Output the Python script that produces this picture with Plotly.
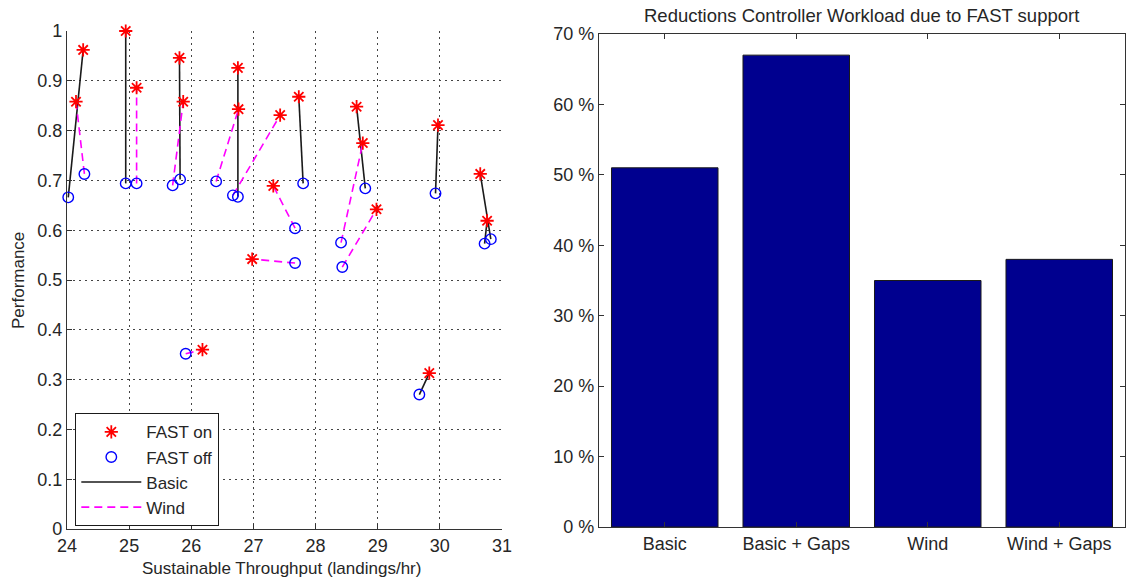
import plotly.graph_objects as go

# ---------------- data ----------------
basic_on_x = [24.26, 24.945, 25.81, 26.75, 27.73, 28.66, 29.97, 30.65, 30.76, 29.83]
basic_on_y = [0.962, 1.0, 0.946, 0.926, 0.868, 0.848, 0.811, 0.713, 0.619, 0.313]
basic_off_x = [24.02, 24.945, 25.82, 26.75, 27.80, 28.80, 29.93, 30.82, 30.72, 29.67]
basic_off_y = [0.666, 0.694, 0.702, 0.667, 0.694, 0.684, 0.674, 0.582, 0.573, 0.270]

wind_on_x = [24.145, 25.12, 25.87, 26.76, 27.43, 27.32, 26.98, 28.76, 28.98, 26.18]
wind_on_y = [0.858, 0.886, 0.858, 0.843, 0.831, 0.689, 0.542, 0.775, 0.642, 0.360]
wind_off_x = [24.28, 25.12, 25.70, 26.40, 26.67, 27.67, 27.67, 28.41, 28.43, 25.91]
wind_off_y = [0.713, 0.694, 0.690, 0.698, 0.670, 0.604, 0.534, 0.575, 0.526, 0.352]

bar_categories = ["Basic", "Basic + Gaps", "Wind", "Wind + Gaps"]
bar_values = [51, 67, 35, 38]
bar_ticks = [0, 10, 20, 30, 40, 50, 60, 70]
bar_ticktext = [f"{v} %" for v in bar_ticks]

left_title_x = "Sustainable Throughput (landings/hr)"
left_title_y = "Performance"
right_title = "Reductions Controller Workload due to FAST support"

# ---------------- helpers ----------------
def segments(x0, y0, x1, y1):
    xs, ys = [], []
    for a, b, c, d in zip(x0, y0, x1, y1):
        xs += [a, c, None]
        ys += [b, d, None]
    return xs, ys

W, H = 1128, 579
FONT = "Liberation Sans, Arial, sans-serif"
TXT = "#262626"

def px_x(p):
    return p / W

def px_y(p):
    return 1 - p / H

fig = go.Figure()

bx, by = segments(basic_off_x, basic_off_y, basic_on_x, basic_on_y)
wx, wy = segments(wind_off_x, wind_off_y, wind_on_x, wind_on_y)

fig.add_trace(go.Scatter(x=bx, y=by, mode="lines", name="Basic",
                         line=dict(color="#1a1a1a", width=1.6),
                         legendrank=3, xaxis="x", yaxis="y", cliponaxis=False))
fig.add_trace(go.Scatter(x=wx, y=wy, mode="lines", name="Wind",
                         line=dict(color="#FF00FF", width=1.6, dash="8px,5px"),
                         legendrank=4, xaxis="x", yaxis="y", cliponaxis=False))
fig.add_trace(go.Scatter(x=basic_on_x + wind_on_x, y=basic_on_y + wind_on_y,
                         mode="markers", name="FAST on",
                         marker=dict(symbol="asterisk-open", size=11,
                                     color="#FF0000",
                                     line=dict(color="#FF0000", width=1.8)),
                         legendrank=1, xaxis="x", yaxis="y", cliponaxis=False))
fig.add_trace(go.Scatter(x=basic_off_x + wind_off_x, y=basic_off_y + wind_off_y,
                         mode="markers", name="FAST off",
                         marker=dict(symbol="circle-open", size=10.5,
                                     color="#0000FF",
                                     line=dict(color="#0000FF", width=1.4)),
                         legendrank=2, xaxis="x", yaxis="y", cliponaxis=False))

fig.add_trace(go.Bar(x=bar_categories, y=bar_values, width=0.81,
                     marker=dict(color="#00008F",
                                 line=dict(color="#1a1a1a", width=1)),
                     showlegend=False, xaxis="x2", yaxis="y2"))

axis_common = dict(showline=True, linecolor="#333333", linewidth=1.3,
                   ticks="inside", tickcolor="#333333", ticklen=5,
                   tickfont=dict(family=FONT, size=18, color=TXT),
                   zeroline=False, automargin=False)

GRID = dict(showgrid=True, gridcolor="#444444", griddash="1.5px,4.5px",
            gridwidth=1.2)

fig.update_layout(
    width=W, height=H,
    margin=dict(l=0, r=0, t=0, b=0),
    paper_bgcolor="white", plot_bgcolor="white",
    font=dict(family=FONT, size=17, color=TXT),
    xaxis=dict(domain=[px_x(67), px_x(502)], range=[24, 31], dtick=1,
               tick0=24, anchor="y", **GRID, **axis_common),
    yaxis=dict(domain=[px_y(529), px_y(31)], range=[0, 1], dtick=0.1,
               tick0=0, anchor="x", **GRID, **axis_common),
    xaxis2=dict(domain=[px_x(599), px_x(1125)], range=[-0.5, 3.5],
                showgrid=False, mirror="ticks", anchor="y2",
                **axis_common),
    yaxis2=dict(domain=[px_y(527), px_y(34)], range=[0, 70],
                tickvals=bar_ticks, ticktext=bar_ticktext,
                showgrid=False, mirror="ticks", anchor="x2",
                **axis_common),
    legend=dict(x=px_x(75), y=px_y(413), xanchor="left", yanchor="top",
                bgcolor="white", bordercolor="#1a1a1a", borderwidth=1.3,
                font=dict(family=FONT, size=17, color=TXT),
                itemwidth=60, traceorder="normal"),
    showlegend=True,
)

fig.add_annotation(text=left_title_x, x=px_x(281), y=px_y(568),
                   xref="paper", yref="paper", showarrow=False,
                   font=dict(family=FONT, size=17, color=TXT),
                   xanchor="center", yanchor="middle")
fig.add_annotation(text=left_title_y, x=px_x(18), y=px_y(281),
                   xref="paper", yref="paper", showarrow=False, textangle=-90,
                   font=dict(family=FONT, size=17, color=TXT),
                   xanchor="center", yanchor="middle")
fig.add_annotation(text=right_title, x=px_x(861), y=px_y(16),
                   xref="paper", yref="paper", showarrow=False,
                   font=dict(family=FONT, size=18.5, color=TXT),
                   xanchor="center", yanchor="middle")

fig.write_html("out.html",
               post_script="document.body.style.margin='0px';"
                           "document.body.style.overflow='hidden';")
